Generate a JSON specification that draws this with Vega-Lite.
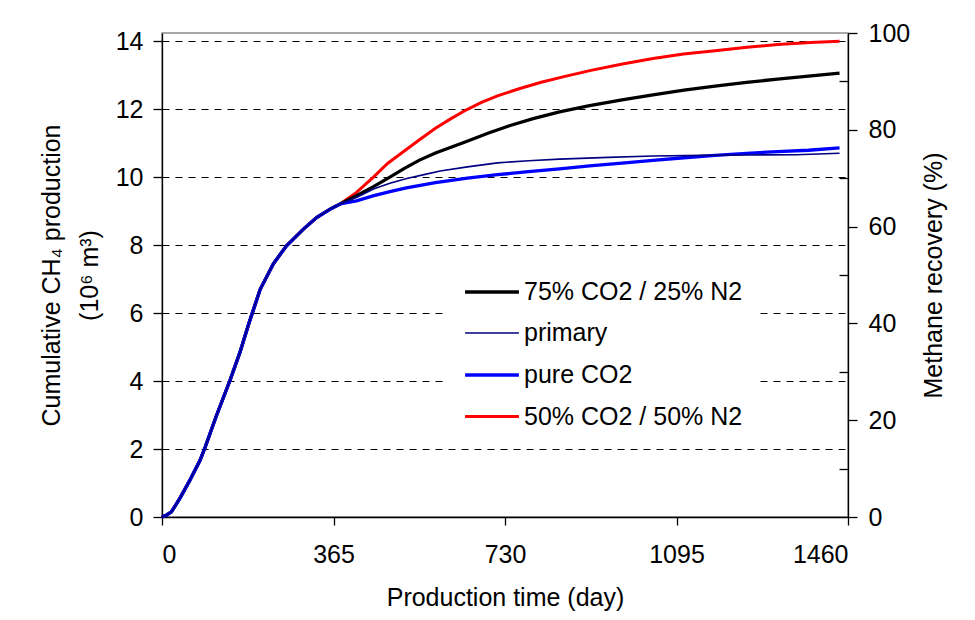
{
  "$schema": "https://vega.github.io/schema/vega-lite/v6.json",
  "width": 686,
  "height": 484,
  "autosize": {"type": "none"},
  "padding": {"left": 162, "top": 33, "right": 127, "bottom": 103},
  "background": "white",
  "config": {
    "font": "Liberation Sans",
    "view": {"stroke": "#8c8c8c", "strokeWidth": 1.5},
    "axis": {
      "labelFont": "Liberation Sans", "titleFont": "Liberation Sans",
      "labelFontSize": 25, "titleFontSize": 25, "titleFontWeight": "normal",
      "labelColor": "#000", "titleColor": "#000",
      "domainColor": "#000", "tickColor": "#000", "domainWidth": 1.3, "tickWidth": 1.3
    },
    "legend": {
      "orient": "none", "legendX": 285, "legendY": 214,
      "fillColor": "white", "padding": 16, "symbolType": "stroke",
      "symbolSize": 2900, "labelFontSize": 25, "labelFont": "Liberation Sans",
      "labelColor": "#000", "labelOffset": 3, "rowPadding": -20, "labelLimit": 400
    }
  },
  "datasets": {
    "curves": [
      {"series": "50% CO2 / 50% N2", "day": 0, "value": 0},
      {"series": "50% CO2 / 50% N2", "day": 10, "value": 0.06},
      {"series": "50% CO2 / 50% N2", "day": 20, "value": 0.15},
      {"series": "50% CO2 / 50% N2", "day": 38, "value": 0.55},
      {"series": "50% CO2 / 50% N2", "day": 60, "value": 1.1},
      {"series": "50% CO2 / 50% N2", "day": 81, "value": 1.67},
      {"series": "50% CO2 / 50% N2", "day": 92, "value": 2.06},
      {"series": "50% CO2 / 50% N2", "day": 115, "value": 2.95},
      {"series": "50% CO2 / 50% N2", "day": 145, "value": 4.03},
      {"series": "50% CO2 / 50% N2", "day": 166, "value": 4.85},
      {"series": "50% CO2 / 50% N2", "day": 185, "value": 5.7},
      {"series": "50% CO2 / 50% N2", "day": 209, "value": 6.7},
      {"series": "50% CO2 / 50% N2", "day": 237, "value": 7.45},
      {"series": "50% CO2 / 50% N2", "day": 265, "value": 7.98},
      {"series": "50% CO2 / 50% N2", "day": 301, "value": 8.47},
      {"series": "50% CO2 / 50% N2", "day": 329, "value": 8.81},
      {"series": "50% CO2 / 50% N2", "day": 358, "value": 9.06},
      {"series": "50% CO2 / 50% N2", "day": 379, "value": 9.21},
      {"series": "50% CO2 / 50% N2", "day": 414, "value": 9.55},
      {"series": "50% CO2 / 50% N2", "day": 450, "value": 10.0},
      {"series": "50% CO2 / 50% N2", "day": 480, "value": 10.4},
      {"series": "50% CO2 / 50% N2", "day": 515, "value": 10.76},
      {"series": "50% CO2 / 50% N2", "day": 548, "value": 11.1},
      {"series": "50% CO2 / 50% N2", "day": 582, "value": 11.44},
      {"series": "50% CO2 / 50% N2", "day": 615, "value": 11.72},
      {"series": "50% CO2 / 50% N2", "day": 648, "value": 11.98},
      {"series": "50% CO2 / 50% N2", "day": 680, "value": 12.2},
      {"series": "50% CO2 / 50% N2", "day": 714, "value": 12.39},
      {"series": "50% CO2 / 50% N2", "day": 760, "value": 12.6},
      {"series": "50% CO2 / 50% N2", "day": 807, "value": 12.79},
      {"series": "50% CO2 / 50% N2", "day": 860, "value": 12.97},
      {"series": "50% CO2 / 50% N2", "day": 913, "value": 13.14},
      {"series": "50% CO2 / 50% N2", "day": 980, "value": 13.33},
      {"series": "50% CO2 / 50% N2", "day": 1045, "value": 13.49},
      {"series": "50% CO2 / 50% N2", "day": 1110, "value": 13.62},
      {"series": "50% CO2 / 50% N2", "day": 1177, "value": 13.72},
      {"series": "50% CO2 / 50% N2", "day": 1245, "value": 13.82},
      {"series": "50% CO2 / 50% N2", "day": 1310, "value": 13.9},
      {"series": "50% CO2 / 50% N2", "day": 1380, "value": 13.96},
      {"series": "50% CO2 / 50% N2", "day": 1442, "value": 14.0},

      {"series": "75% CO2 / 25% N2", "day": 0, "value": 0},
      {"series": "75% CO2 / 25% N2", "day": 10, "value": 0.06},
      {"series": "75% CO2 / 25% N2", "day": 20, "value": 0.15},
      {"series": "75% CO2 / 25% N2", "day": 38, "value": 0.55},
      {"series": "75% CO2 / 25% N2", "day": 60, "value": 1.1},
      {"series": "75% CO2 / 25% N2", "day": 81, "value": 1.67},
      {"series": "75% CO2 / 25% N2", "day": 92, "value": 2.06},
      {"series": "75% CO2 / 25% N2", "day": 115, "value": 2.95},
      {"series": "75% CO2 / 25% N2", "day": 145, "value": 4.03},
      {"series": "75% CO2 / 25% N2", "day": 166, "value": 4.85},
      {"series": "75% CO2 / 25% N2", "day": 185, "value": 5.7},
      {"series": "75% CO2 / 25% N2", "day": 209, "value": 6.7},
      {"series": "75% CO2 / 25% N2", "day": 237, "value": 7.45},
      {"series": "75% CO2 / 25% N2", "day": 265, "value": 7.98},
      {"series": "75% CO2 / 25% N2", "day": 301, "value": 8.47},
      {"series": "75% CO2 / 25% N2", "day": 329, "value": 8.81},
      {"series": "75% CO2 / 25% N2", "day": 358, "value": 9.06},
      {"series": "75% CO2 / 25% N2", "day": 379, "value": 9.21},
      {"series": "75% CO2 / 25% N2", "day": 414, "value": 9.45},
      {"series": "75% CO2 / 25% N2", "day": 450, "value": 9.72},
      {"series": "75% CO2 / 25% N2", "day": 485, "value": 10.0},
      {"series": "75% CO2 / 25% N2", "day": 515, "value": 10.25},
      {"series": "75% CO2 / 25% N2", "day": 548, "value": 10.5},
      {"series": "75% CO2 / 25% N2", "day": 582, "value": 10.71},
      {"series": "75% CO2 / 25% N2", "day": 615, "value": 10.88},
      {"series": "75% CO2 / 25% N2", "day": 648, "value": 11.05},
      {"series": "75% CO2 / 25% N2", "day": 695, "value": 11.3},
      {"series": "75% CO2 / 25% N2", "day": 741, "value": 11.52},
      {"series": "75% CO2 / 25% N2", "day": 790, "value": 11.72},
      {"series": "75% CO2 / 25% N2", "day": 846, "value": 11.92},
      {"series": "75% CO2 / 25% N2", "day": 910, "value": 12.1},
      {"series": "75% CO2 / 25% N2", "day": 979, "value": 12.27},
      {"series": "75% CO2 / 25% N2", "day": 1045, "value": 12.42},
      {"series": "75% CO2 / 25% N2", "day": 1111, "value": 12.56},
      {"series": "75% CO2 / 25% N2", "day": 1177, "value": 12.68},
      {"series": "75% CO2 / 25% N2", "day": 1244, "value": 12.79},
      {"series": "75% CO2 / 25% N2", "day": 1310, "value": 12.88},
      {"series": "75% CO2 / 25% N2", "day": 1376, "value": 12.97},
      {"series": "75% CO2 / 25% N2", "day": 1442, "value": 13.06},

      {"series": "pure CO2", "day": 0, "value": 0},
      {"series": "pure CO2", "day": 10, "value": 0.06},
      {"series": "pure CO2", "day": 20, "value": 0.15},
      {"series": "pure CO2", "day": 38, "value": 0.55},
      {"series": "pure CO2", "day": 60, "value": 1.1},
      {"series": "pure CO2", "day": 81, "value": 1.67},
      {"series": "pure CO2", "day": 92, "value": 2.06},
      {"series": "pure CO2", "day": 115, "value": 2.95},
      {"series": "pure CO2", "day": 145, "value": 4.03},
      {"series": "pure CO2", "day": 166, "value": 4.85},
      {"series": "pure CO2", "day": 185, "value": 5.7},
      {"series": "pure CO2", "day": 209, "value": 6.7},
      {"series": "pure CO2", "day": 237, "value": 7.45},
      {"series": "pure CO2", "day": 265, "value": 7.98},
      {"series": "pure CO2", "day": 301, "value": 8.47},
      {"series": "pure CO2", "day": 329, "value": 8.81},
      {"series": "pure CO2", "day": 358, "value": 9.06},
      {"series": "pure CO2", "day": 379, "value": 9.21},
      {"series": "pure CO2", "day": 414, "value": 9.3},
      {"series": "pure CO2", "day": 449, "value": 9.45},
      {"series": "pure CO2", "day": 485, "value": 9.57},
      {"series": "pure CO2", "day": 520, "value": 9.68},
      {"series": "pure CO2", "day": 582, "value": 9.84},
      {"series": "pure CO2", "day": 650, "value": 9.97},
      {"series": "pure CO2", "day": 714, "value": 10.07},
      {"series": "pure CO2", "day": 780, "value": 10.16},
      {"series": "pure CO2", "day": 846, "value": 10.24},
      {"series": "pure CO2", "day": 910, "value": 10.33},
      {"series": "pure CO2", "day": 979, "value": 10.41},
      {"series": "pure CO2", "day": 1045, "value": 10.49},
      {"series": "pure CO2", "day": 1111, "value": 10.57},
      {"series": "pure CO2", "day": 1177, "value": 10.64},
      {"series": "pure CO2", "day": 1244, "value": 10.7},
      {"series": "pure CO2", "day": 1310, "value": 10.75},
      {"series": "pure CO2", "day": 1376, "value": 10.79},
      {"series": "pure CO2", "day": 1442, "value": 10.86},

      {"series": "primary", "day": 0, "value": 0},
      {"series": "primary", "day": 10, "value": 0.06},
      {"series": "primary", "day": 20, "value": 0.15},
      {"series": "primary", "day": 38, "value": 0.55},
      {"series": "primary", "day": 60, "value": 1.1},
      {"series": "primary", "day": 81, "value": 1.67},
      {"series": "primary", "day": 92, "value": 2.06},
      {"series": "primary", "day": 115, "value": 2.95},
      {"series": "primary", "day": 145, "value": 4.03},
      {"series": "primary", "day": 166, "value": 4.85},
      {"series": "primary", "day": 185, "value": 5.7},
      {"series": "primary", "day": 209, "value": 6.7},
      {"series": "primary", "day": 237, "value": 7.45},
      {"series": "primary", "day": 265, "value": 7.98},
      {"series": "primary", "day": 301, "value": 8.47},
      {"series": "primary", "day": 329, "value": 8.81},
      {"series": "primary", "day": 358, "value": 9.06},
      {"series": "primary", "day": 379, "value": 9.21},
      {"series": "primary", "day": 414, "value": 9.4},
      {"series": "primary", "day": 450, "value": 9.65},
      {"series": "primary", "day": 485, "value": 9.82},
      {"series": "primary", "day": 521, "value": 9.96},
      {"series": "primary", "day": 560, "value": 10.08},
      {"series": "primary", "day": 592, "value": 10.18},
      {"series": "primary", "day": 650, "value": 10.3},
      {"series": "primary", "day": 714, "value": 10.42},
      {"series": "primary", "day": 780, "value": 10.48},
      {"series": "primary", "day": 846, "value": 10.53},
      {"series": "primary", "day": 950, "value": 10.58},
      {"series": "primary", "day": 1045, "value": 10.62},
      {"series": "primary", "day": 1150, "value": 10.64},
      {"series": "primary", "day": 1244, "value": 10.65},
      {"series": "primary", "day": 1350, "value": 10.66},
      {"series": "primary", "day": 1442, "value": 10.7}
    ],
    "recovery": [{"pct": 0}, {"pct": 100}]
  },
  "layer": [
    {
      "data": {"name": "curves"},
      "mark": {"type": "line", "interpolate": "linear"},
      "encoding": {
        "x": {
          "field": "day", "type": "quantitative",
          "scale": {"domain": [0, 1460], "nice": false, "zero": false},
          "axis": {
            "values": [0, 365, 730, 1095, 1460], "format": "d", "title": "Production time (day)",
            "grid": false, "tickSize": 8, "labelPadding": 17, "titlePadding": 18
          }
        },
        "y": {
          "field": "value", "type": "quantitative",
          "scale": {"domain": [0, 14.24], "nice": false},
          "axis": {
            "values": [0, 2, 4, 6, 8, 10, 12, 14],
            "title": ["Cumulative CH₄ production", "(10⁶ m³)"],
            "titleLineHeight": 38,
            "grid": true, "gridDash": [7, 6], "gridColor": "#000", "gridWidth": 1,
            "gridOpacity": {"condition": {"test": "datum.value === 0", "value": 0}, "value": 1},
            "tickSize": 9, "labelPadding": 10, "titlePadding": 13
          }
        },
        "color": {
          "field": "series", "type": "nominal",
          "scale": {
            "domain": ["75% CO2 / 25% N2", "primary", "pure CO2", "50% CO2 / 50% N2"],
            "range": ["#000000", "#000080", "#0000ff", "#ff0000"]
          },
          "legend": {"title": null}
        },
        "strokeWidth": {
          "field": "series", "type": "nominal",
          "scale": {
            "type": "ordinal",
            "domain": ["75% CO2 / 25% N2", "primary", "pure CO2", "50% CO2 / 50% N2"],
            "range": [3.3, 1.6, 3.3, 3]
          },
          "legend": {"title": null}
        }
      }
    },
    {
      "data": {"name": "recovery"},
      "mark": {"type": "point", "opacity": 0},
      "encoding": {
        "y": {
          "field": "pct", "type": "quantitative",
          "scale": {"domain": [0, 100], "nice": false},
          "axis": {
            "orient": "right",
            "values": [0, 10, 20, 30, 40, 50, 60, 70, 80, 90, 100],
            "labelExpr": "datum.value % 20 === 0 ? datum.label : ''",
            "title": "Methane recovery (%)", "titleAngle": 270,
            "grid": false,
            "tickSize": {"condition": {"test": "datum.value % 20 === 0", "value": 9}, "value": -9},
            "labelPadding": 11, "titlePadding": 37
          }
        }
      }
    }
  ],
  "resolve": {"scale": {"y": "independent"}}
}
